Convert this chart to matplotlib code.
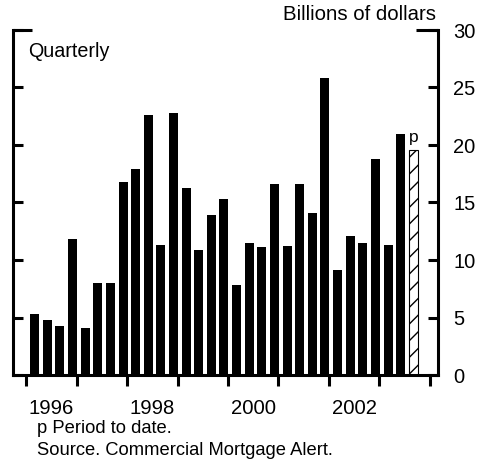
import numpy as np
import matplotlib.pyplot as plt

plt.rcParams['font.family'] = ['Liberation Sans', 'DejaVu Sans']

# quarterly issuance, billions of dollars, 1996Q1 .. 2003Q3 (last one is period to date)
years = [1996, 1997, 1998, 1999, 2000, 2001, 2002, 2003]
values = [5.3, 4.8, 4.3, 11.8,
          4.1, 8.0, 8.0, 16.8,
          17.9, 22.6, 11.3, 22.8,
          16.3, 10.9, 13.9, 15.3,
          7.8, 11.5, 11.1, 16.65,
          11.2, 16.65, 14.1, 25.8,
          9.15, 12.1, 11.5, 18.8,
          11.3, 20.95]
partial_value = 19.6
year_labels = ['1996', '1998', '2000', '2002']

x = np.arange(len(values)) * 0.25 + 1996 + 0.17
x_partial = x[-1] + 0.25

fig = plt.figure(figsize=(4.8, 4.61), dpi=100)
ax = fig.add_axes([13/480, 86/461, 425/480, 345/461])

ax.bar(x, values, width=0.178, color='black', edgecolor='none')
ax.bar([x_partial], [partial_value], width=0.178, color='white', edgecolor='black',
       hatch='//', linewidth=0.8)
ax.text(x_partial, partial_value + 0.4, 'p', ha='center', va='bottom', fontsize=12.5)

ax.set_xlim(1995.74, 2004.16)
ax.set_ylim(0, 30)

lw = 2.2
ax.spines['top'].set_visible(False)
for s in ['left', 'right', 'bottom']:
    ax.spines[s].set_linewidth(lw)

ax.set_yticks(np.arange(0, 31, 5))
ax.tick_params(axis='y', left=True, right=True, labelleft=False, labelright=True,
               direction='in', length=7.5, width=lw, labelsize=14.5, pad=11)

ax.set_xticks(np.arange(1996, 2005))
ax.set_xticklabels([])
ax.set_xticks([int(y) + 0.5 for y in year_labels], minor=True)
ax.set_xticklabels(year_labels, minor=True)
ax.tick_params(axis='x', which='major', direction='out', length=8, width=lw)
ax.tick_params(axis='x', which='minor', length=0, labelsize=14.6, pad=17)

# top bracket ends
ax.plot([0, 19/425], [1, 1], color='black', lw=lw, transform=ax.transAxes,
        clip_on=False, solid_capstyle='butt')
ax.plot([1 - 22/425, 1], [1, 1], color='black', lw=lw, transform=ax.transAxes,
        clip_on=False, solid_capstyle='butt')

ax.text(0.035, 0.965, 'Quarterly', transform=ax.transAxes, ha='left', va='top', fontsize=14.2)
fig.text(436/480, 1 - 20/461, 'Billions of dollars', ha='right', va='baseline', fontsize=14.7)
fig.text(37/480, 1 - 433/461, 'p Period to date.', ha='left', va='baseline', fontsize=13.2)
fig.text(37/480, 1 - 455/461, 'Source. Commercial Mortgage Alert.', ha='left', va='baseline',
         fontsize=13.2)

fig.savefig('out.png', dpi=100)
